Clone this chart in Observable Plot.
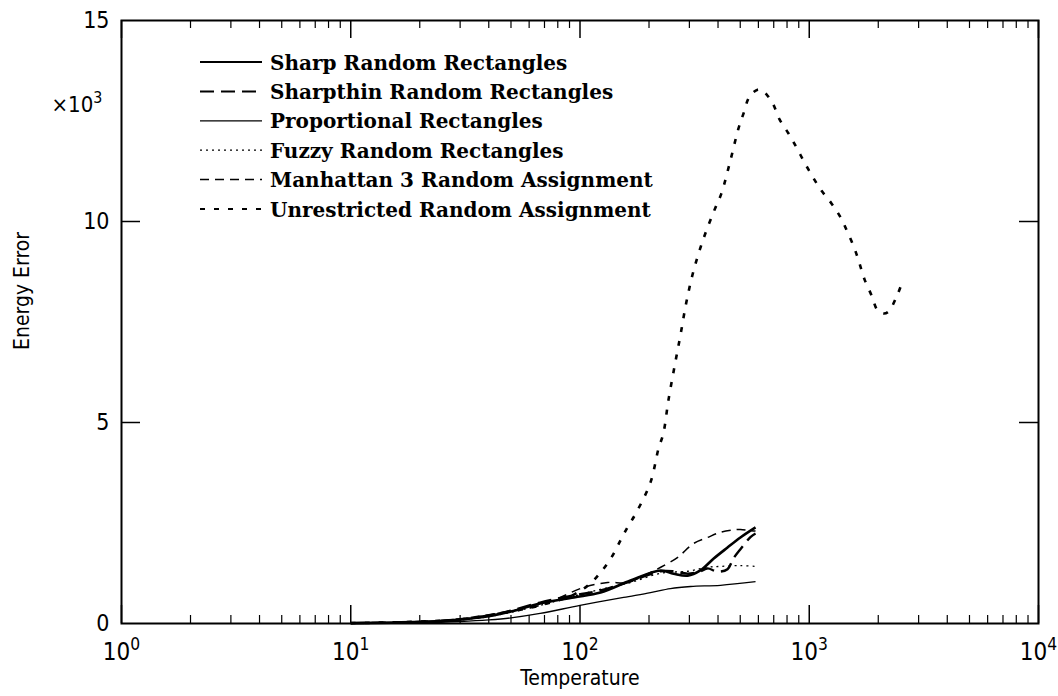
<!DOCTYPE html>
<html>
<head>
<meta charset="utf-8">
<script src="https://cdn.jsdelivr.net/npm/d3@7"></script>
<script src="https://cdn.jsdelivr.net/npm/@observablehq/plot@0.6"></script>
<style>
  html, body { margin: 0; padding: 0; background: #fff; }
  #chart { width: 1058px; height: 696px; }
</style>
</head>
<body>
<div id="chart"></div>
<script>
// Energy error values are in thousands (axis shows x10^3)
const seriesNames = [
  "Sharp Random Rectangles",
  "Sharpthin Random Rectangles",
  "Proportional Rectangles",
  "Fuzzy Random Rectangles",
  "Manhattan 3 Random Assignment",
  "Unrestricted Random Assignment"
];

const sharp = [[10,0.01],[20,0.04],[30,0.1],[40,0.18],[50,0.3],[67,0.5],[94,0.65],[123,0.77],[166,1.07],[225,1.32],[256,1.24],[295,1.19],[335,1.32],[382,1.61],[440,1.89],[501,2.14],[583,2.39]];
const sharpthin = [[10,0.01],[20,0.04],[30,0.1],[40,0.2],[50,0.32],[67,0.52],[94,0.7],[123,0.82],[166,1.05],[225,1.3],[256,1.3],[295,1.24],[335,1.3],[360,1.37],[398,1.29],[440,1.35],[467,1.62],[501,1.85],[554,2.15],[583,2.24]];
const proportional = [[10,0.005],[20,0.02],[30,0.05],[40,0.09],[50,0.14],[67,0.25],[100,0.45],[155,0.65],[203,0.77],[248,0.87],[304,0.92],[410,0.95],[583,1.04]];
const fuzzy = [[10,0.01],[20,0.03],[30,0.09],[40,0.17],[50,0.28],[67,0.45],[94,0.68],[123,0.85],[166,1.02],[225,1.25],[295,1.3],[360,1.4],[410,1.42],[501,1.44],[583,1.42]];
const manhattan = [[10,0.01],[20,0.04],[30,0.12],[40,0.22],[50,0.32],[67,0.45],[82,0.65],[104,0.9],[132,1.02],[161,1.02],[203,1.27],[225,1.4],[266,1.64],[313,1.99],[360,2.14],[410,2.27],[467,2.33],[501,2.34],[554,2.31],[583,2.3]];
const unrestricted = [[10,0.01],[30,0.1],[50,0.3],[67,0.45],[94,0.72],[110,0.98],[123,1.27],[137,1.64],[150,2.06],[161,2.39],[176,2.76],[203,3.51],[220,4.35],[231,4.73],[243,5.55],[258,6.37],[274,7.16],[291,7.99],[313,8.78],[346,9.58],[390,10.35],[414,10.7],[453,11.52],[491,12.31],[517,12.69],[549,13.11],[595,13.28],[625,13.26],[692,12.94],[742,12.54],[812,12.19],[880,11.84],[953,11.47],[1033,11.12],[1130,10.77],[1250,10.45],[1370,10.1],[1470,9.73],[1575,9.33],[1656,8.96],[1742,8.56],[1870,8.16],[1986,7.79],[2109,7.71],[2218,7.76],[2404,8.13],[2553,8.51]];

const xMajorTicks = [1, 10, 100, 1000, 10000];
const xMinorTicks = [1, 10, 100, 1000].flatMap(p => [2,3,4,5,6,7,8,9].map(m => m * p));
const yTicks = [0, 5, 10, 15];
const yInnerTicks = [5, 10];

const styles = [
  {strokeWidth: 2.6, strokeDasharray: null},
  {strokeWidth: 2.4, strokeDasharray: "14,7"},
  {strokeWidth: 1.3, strokeDasharray: null},
  {strokeWidth: 1.3, strokeDasharray: "2,4"},
  {strokeWidth: 1.5, strokeDasharray: "9,6"},
  {strokeWidth: 2.6, strokeDasharray: "5,9"}
];
const allSeries = [sharp, sharpthin, proportional, fuzzy, manhattan, unrestricted];

const W = 1058, H = 696;
const mL = 121, mR = 20, mT = 20, mB = 73;
const fw = W - mL - mR, fh = H - mT - mB;
const sansFont = "'DejaVu Sans', sans-serif";

const lineMarks = allSeries.map((s, i) => Plot.line(s, {
  x: d => d[0], y: d => d[1], curve: "catmull-rom",
  stroke: "black", strokeWidth: styles[i].strokeWidth,
  strokeDasharray: styles[i].strokeDasharray, strokeLinecap: "butt"
}));

const chart = Plot.plot({
  width: W, height: H,
  marginLeft: mL, marginRight: mR, marginTop: mT, marginBottom: mB,
  x: {type: "log", domain: [1, 10000]},
  y: {domain: [0, 15]},
  style: {fontFamily: sansFont, fontStretch: "condensed", background: "white", color: "black"},
  marks: [
    // inward ticks
    Plot.tickX(xMajorTicks, {x: d => d, insetTop: fh - 18, stroke: "black", strokeWidth: 1.5}),
    Plot.tickX(xMajorTicks, {x: d => d, insetBottom: fh - 18, stroke: "black", strokeWidth: 1.5}),
    Plot.tickX(xMinorTicks, {x: d => d, insetTop: fh - 8, stroke: "black", strokeWidth: 1.2}),
    Plot.tickX(xMinorTicks, {x: d => d, insetBottom: fh - 8, stroke: "black", strokeWidth: 1.2}),
    Plot.tickY(yInnerTicks, {y: d => d, insetRight: fw - 19, stroke: "black", strokeWidth: 1.5}),
    Plot.tickY(yInnerTicks, {y: d => d, insetLeft: fw - 19, stroke: "black", strokeWidth: 1.5}),
    Plot.axisX({ticks: xMajorTicks, tickSize: 0, tickPadding: 19, fontSize: 24, label: null,
      tickFormat: d => "10|" + Math.round(Math.log10(d))}),
    Plot.axisY({ticks: yTicks, tickSize: 0, tickPadding: 12, fontSize: 23, label: null,
      tickFormat: d => String(d)}),
    ...lineMarks,
    Plot.frame({stroke: "black", strokeWidth: 2}),
    Plot.text(["Temperature"], {frameAnchor: "bottom", dy: 61, text: d => d, fontSize: 21}),
    Plot.text(["Energy Error"], {frameAnchor: "left", dx: -99, dy: -31, rotate: -90, textAnchor: "middle", text: d => d, fontSize: 21}),
    Plot.text(["×10|3"], {frameAnchor: "top-left", dx: -70, dy: 76, text: d => d, fontSize: 22})
  ]
});

document.getElementById("chart").appendChild(chart);

// superscript exponents on x tick labels and the multiplier note
d3.select(chart).selectAll("text").each(function() {
  const t = this.textContent;
  const m = /^(×?10)\|(\d)$/.exec(t);
  if (m) {
    const sel = d3.select(this);
    sel.text(m[1]);
    sel.append("tspan").attr("dy", "-0.55em").attr("font-size", "0.72em").text(m[2]);
  }
});

// legend (inside frame, top-left)
const leg = d3.select(chart).append("g").attr("class", "legend").attr("text-anchor", "start");
seriesNames.forEach((name, i) => {
  const y = 64 + i * 29.4;
  leg.append("line")
    .attr("x1", 200).attr("x2", 262).attr("y1", y - 2).attr("y2", y - 2)
    .attr("stroke", "black")
    .attr("stroke-width", Math.min(styles[i].strokeWidth, 2))
    .attr("stroke-dasharray", styles[i].strokeDasharray);
  leg.append("text")
    .attr("x", 270).attr("y", y)
    .attr("text-anchor", "start")
    .attr("dominant-baseline", "middle")
    .attr("font-family", "'DejaVu Serif', 'Liberation Serif', serif")
    .attr("font-stretch", "normal")
    .attr("font-weight", "bold")
    .attr("font-size", 20)
    .attr("fill", "black")
    .text(name);
});
</script>
</body>
</html>
